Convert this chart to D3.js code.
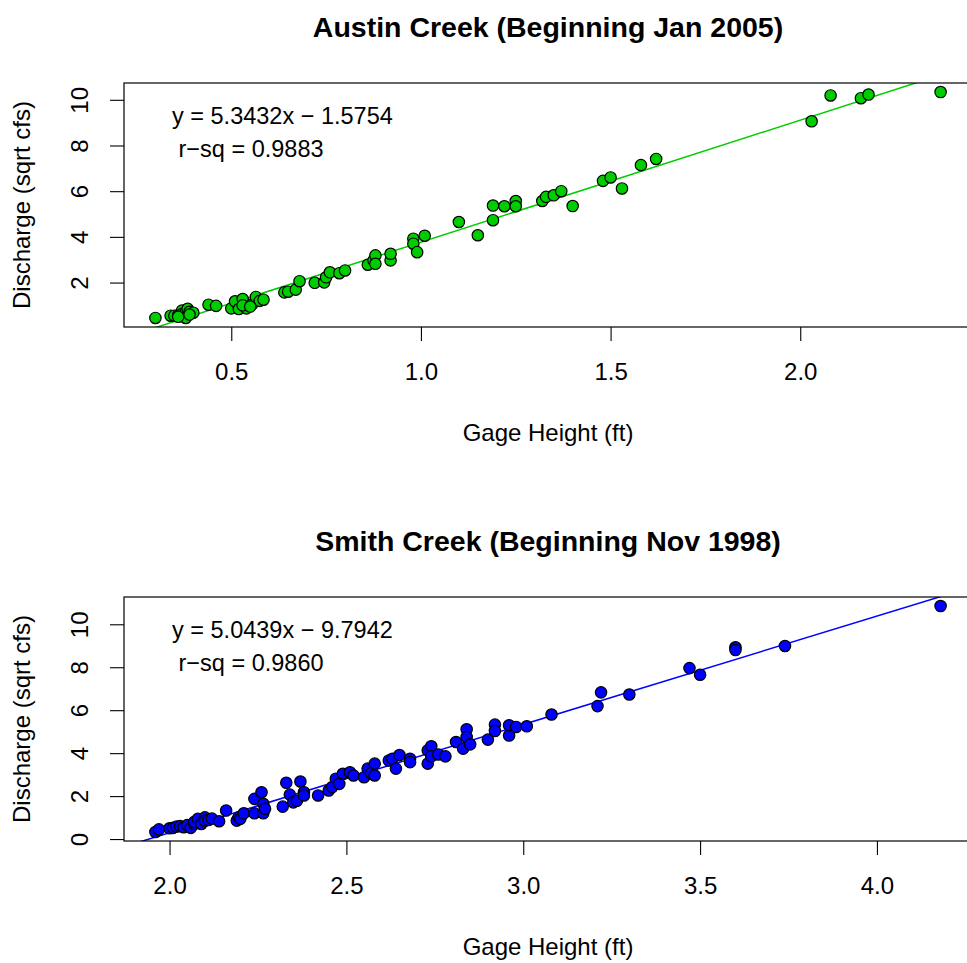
<!DOCTYPE html>
<html>
<head>
<meta charset="utf-8">
<script src="https://cdn.jsdelivr.net/npm/d3@7"></script>
<style>
  body { margin: 0; background: #fff; }
  text { font-family: "Liberation Sans", Arial, sans-serif; fill: #000; }
</style>
</head>
<body>
<div id="chart"></div>
<script>
// Austin Creek: gage height (ft) vs sqrt discharge
var austinX = [0.30, 0.34, 0.35, 0.36, 0.37, 0.37, 0.38, 0.385, 0.39, 0.40, 0.38, 0.36, 0.39,
  0.44, 0.46, 0.50, 0.51, 0.53, 0.52, 0.54, 0.53, 0.555, 0.565, 0.575, 0.585, 0.55,
  0.64, 0.65, 0.67, 0.68, 0.72, 0.745, 0.75, 0.76, 0.785, 0.80, 0.86, 0.875, 0.88, 0.88,
  0.92, 0.92, 0.98, 0.98, 0.99, 1.01, 1.10, 1.15, 1.19, 1.19, 1.22, 1.25, 1.25,
  1.32, 1.33, 1.35, 1.37, 1.40, 1.48, 1.50, 1.53, 1.58, 1.62, 2.03, 2.08, 2.16, 2.18, 2.37];
var austinY = [0.45, 0.55, 0.55, 0.57, 0.77, 0.62, 0.70, 0.85, 0.72, 0.68, 0.45, 0.50, 0.60,
  1.03, 0.98, 0.87, 1.18, 1.28, 0.84, 0.87, 1.00, 1.05, 1.37, 1.20, 1.25, 0.95,
  1.57, 1.60, 1.69, 2.06, 1.99, 2.01, 2.23, 2.45, 2.41, 2.53, 2.78, 2.97, 3.19, 2.82,
  2.97, 3.26, 3.92, 3.70, 3.33, 4.05, 4.65, 4.07, 5.37, 4.73, 5.34, 5.57, 5.34,
  5.57, 5.75, 5.82, 6.00, 5.35, 6.45, 6.60, 6.12, 7.14, 7.41, 9.06, 10.19, 10.07, 10.23, 10.34];

// Smith Creek
var smithX = [1.96, 1.97, 2.00, 2.01, 2.02, 2.03, 2.04, 2.05, 2.06, 2.07, 2.07, 2.08, 2.09, 2.10,
  2.10, 2.11, 2.12, 2.14, 2.16, 2.19, 2.195, 2.20, 2.21, 2.24, 2.24, 2.26, 2.265, 2.265, 2.27,
  2.32, 2.33, 2.34, 2.35, 2.36, 2.37, 2.38, 2.38, 2.42, 2.45, 2.46, 2.47, 2.48, 2.49, 2.51,
  2.52, 2.55, 2.56, 2.57, 2.58, 2.58, 2.62, 2.63, 2.64, 2.65, 2.68, 2.68, 2.73, 2.73, 2.74,
  2.74, 2.76, 2.78, 2.81, 2.83, 2.84, 2.84, 2.85, 2.90, 2.92, 2.92, 2.96, 2.96, 2.98, 3.01,
  3.08, 3.21, 3.22, 3.30, 3.47, 3.50, 3.60, 3.60, 3.74, 4.18];
var smithY = [0.33, 0.45, 0.50, 0.52, 0.58, 0.60, 0.55, 0.65, 0.52, 0.70, 0.80, 0.94, 0.70, 1.01,
  0.85, 0.89, 0.95, 0.83, 1.33, 0.86, 1.01, 0.94, 1.20, 1.20, 1.87, 2.18, 1.64, 1.20, 1.41,
  1.51, 2.62, 2.07, 1.71, 1.78, 2.68, 2.18, 2.03, 2.03, 2.26, 2.42, 2.81, 2.57, 3.04, 3.11,
  2.96, 2.88, 3.28, 3.07, 2.96, 3.51, 3.66, 3.74, 3.28, 3.91, 3.74, 3.58, 3.51, 4.13, 4.32,
  3.85, 3.94, 3.85, 4.52, 4.21, 5.11, 4.75, 4.41, 4.63, 5.33, 5.03, 4.82, 5.30, 5.22, 5.25,
  5.80, 6.19, 6.83, 6.73, 7.96, 7.65, 8.93, 8.80, 8.99, 10.85];

var austinXTicks = [0.5, 1.0, 1.5, 2.0];
var austinYTicks = [2, 4, 6, 8, 10];
var smithXTicks = [2.0, 2.5, 3.0, 3.5, 4.0];
var smithYTicks = [0, 2, 4, 6, 8, 10];

var austinFit = [5.3432, -1.5754];
var smithFit = [5.0439, -9.7942];

var W = 967, H = 963;
var svg = d3.select("#chart").append("svg")
  .attr("width", W)
  .attr("height", H);

// R style 4% range expansion
function rdomain(v) {
  var e = d3.extent(v), p = (e[1] - e[0]) * 0.04;
  return [e[0] - p, e[1] + p];
}

function drawPanel(cfg) {
  var top = cfg.top, bottom = cfg.top + 244, left = 124, right = 972;
  var x = d3.scaleLinear().domain(rdomain(cfg.xs)).range([left, right]);
  var y = d3.scaleLinear().domain(rdomain(cfg.ys)).range([bottom, top]);
  var g = svg.append("g");

  var clipId = "clip" + cfg.top;
  g.append("clipPath").attr("id", clipId).append("rect")
    .attr("x", left).attr("y", top).attr("width", right - left).attr("height", bottom - top);

  // regression line
  var xd = x.domain();
  g.append("line")
    .attr("clip-path", "url(#" + clipId + ")")
    .attr("x1", x(xd[0])).attr("y1", y(cfg.fit[0] * xd[0] + cfg.fit[1]))
    .attr("x2", x(xd[1])).attr("y2", y(cfg.fit[0] * xd[1] + cfg.fit[1]))
    .attr("stroke", cfg.color).attr("stroke-width", 1.5);

  var pts = cfg.xs.map(function (d, i) { return [d, cfg.ys[i]]; });
  g.selectAll("circle.pt")
    .data(pts)
    .enter().append("circle")
    .attr("class", "pt")
    .attr("cx", function (d) { return x(d[0]); })
    .attr("cy", function (d) { return y(d[1]); })
    .attr("r", 5.7)
    .attr("fill", cfg.color)
    .attr("stroke", "#000")
    .attr("stroke-width", 1.2);

  // box
  g.append("rect")
    .attr("x", left).attr("y", top).attr("width", right - left).attr("height", bottom - top)
    .attr("fill", "none").attr("stroke", "#000").attr("stroke-width", 1.2);

  // x axis
  var xa = g.append("g").attr("transform", "translate(0," + bottom + ")")
    .call(d3.axisBottom(x).tickValues(cfg.xTicks).tickSize(14).tickPadding(0)
      .tickFormat(d3.format(".1f")));
  xa.select(".domain").remove();
  xa.selectAll("line").attr("stroke", "#000").attr("stroke-width", 1.1);
  xa.selectAll("text").attr("font-size", 24).attr("dy", null).attr("y", 53)
    .style("font-family", "'Liberation Sans', Arial, sans-serif");

  // y axis
  var ya = g.append("g").attr("transform", "translate(" + left + ",0)")
    .call(d3.axisLeft(y).tickValues(cfg.yTicks).tickSize(14).tickFormat(d3.format("d")));
  ya.select(".domain").remove();
  ya.selectAll("line").attr("stroke", "#000").attr("stroke-width", 1.1);
  ya.selectAll("text").attr("font-size", 24).attr("x", null).attr("dy", null)
    .attr("text-anchor", "middle")
    .attr("transform", "translate(-36,0) rotate(-90)")
    .style("font-family", "'Liberation Sans', Arial, sans-serif");

  // labels
  svg.append("text")
    .attr("x", (left + right) / 2).attr("y", top - 46)
    .attr("text-anchor", "middle").attr("font-size", 28.5).attr("font-weight", "bold")
    .text(cfg.title);
  svg.append("text")
    .attr("x", (left + right) / 2).attr("y", bottom + 114)
    .attr("text-anchor", "middle").attr("font-size", 24)
    .text("Gage Height (ft)");
  svg.append("text")
    .attr("transform", "translate(30," + ((top + bottom) / 2) + ") rotate(-90)")
    .attr("text-anchor", "middle").attr("font-size", 24)
    .text("Discharge (sqrt cfs)");

  // fit annotation
  var sign = cfg.fit[1] < 0 ? " \u2212 " : " + ";
  svg.append("text")
    .attr("x", 172).attr("y", top + 41)
    .attr("font-size", 23.5)
    .style("white-space", "pre")
    .text("y = " + cfg.fit[0].toFixed(4) + "x" + sign + Math.abs(cfg.fit[1]).toFixed(4));
  svg.append("text")
    .attr("x", 172).attr("y", top + 74)
    .attr("font-size", 23.5)
    .style("white-space", "pre")
    .text(" r\u2212sq = " + cfg.rsq);
}

drawPanel({
  top: 83, xs: austinX, ys: austinY, xTicks: austinXTicks, yTicks: austinYTicks,
  fit: austinFit, rsq: "0.9883", color: "#00cd00",
  title: "Austin Creek (Beginning Jan 2005)"
});
drawPanel({
  top: 597, xs: smithX, ys: smithY, xTicks: smithXTicks, yTicks: smithYTicks,
  fit: smithFit, rsq: "0.9860", color: "#0000ff",
  title: "Smith Creek (Beginning Nov 1998)"
});
</script>
</body>
</html>
